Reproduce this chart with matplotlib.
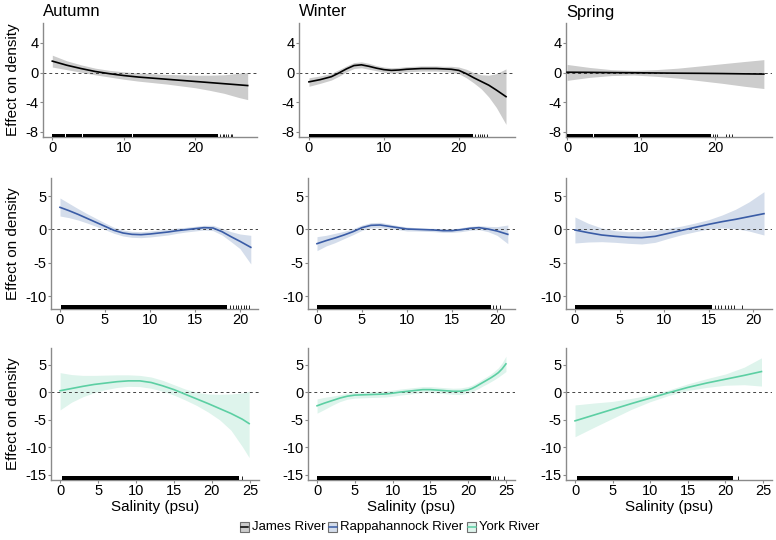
import matplotlib
matplotlib.use("Agg")
import matplotlib.pyplot as plt
from matplotlib.patches import Rectangle
from matplotlib.lines import Line2D

plt.rcParams['font.family'] = ['Liberation Sans', 'DejaVu Sans']

# Cores e rótulos
seasons = ["Autumn", "Winter", "Spring"]
rivers = ["James River", "Rappahannock River", "York River"]
line_colors = ["#000000", "#3a5ca6", "#5ccfa3"]
band_colors = ["#cccccc", "#d4ddeb", "#def4ec"]

# ---------------- James River (linha de cima) ----------------
james_autumn_x = [0, 2, 4, 6, 8, 10, 12, 14, 16, 18, 20, 22, 24, 26, 27.3]
james_autumn_fit = [1.55, 1.0, 0.55, 0.15, -0.15, -0.4, -0.6, -0.75, -0.9, -1.05, -1.2, -1.35, -1.5, -1.65, -1.75]
james_autumn_up = [2.35, 1.6, 1.05, 0.6, 0.3, 0.1, -0.05, -0.15, -0.25, -0.3, -0.35, -0.35, -0.3, -0.1, 0.0]
james_autumn_low = [0.75, 0.4, 0.05, -0.3, -0.6, -0.9, -1.15, -1.35, -1.55, -1.8, -2.05, -2.4, -2.8, -3.35, -3.65]

james_winter_x = [0, 1.5, 3, 4, 5, 6, 7, 8, 9, 10, 11, 12, 13, 14, 15, 16, 17, 18, 19, 20, 21, 22, 23, 24, 25, 26.3]
james_winter_fit = [-1.25, -0.95, -0.55, -0.05, 0.5, 0.95, 1.05, 0.85, 0.6, 0.4, 0.3, 0.35, 0.45, 0.5, 0.55, 0.55, 0.55, 0.5, 0.45, 0.3, -0.15, -0.7, -1.2, -1.7, -2.35, -3.25]
james_winter_up = [-0.7, -0.45, -0.1, 0.4, 0.9, 1.35, 1.45, 1.25, 0.95, 0.75, 0.65, 0.7, 0.8, 0.85, 0.9, 0.9, 0.9, 0.85, 0.85, 0.75, 0.45, 0.0, -0.3, -0.35, -0.15, 0.5]
james_winter_low = [-1.85, -1.45, -1.0, -0.5, 0.1, 0.55, 0.65, 0.45, 0.25, 0.05, -0.05, 0.0, 0.1, 0.15, 0.2, 0.2, 0.2, 0.15, 0.05, -0.15, -0.7, -1.4, -2.2, -3.3, -4.7, -7.0]

james_spring_x = [0, 3, 6, 9, 12, 15, 18, 21, 24, 26.6]
james_spring_fit = [0.05, 0.03, 0.0, -0.02, -0.05, -0.08, -0.1, -0.13, -0.17, -0.2]
james_spring_up = [1.1, 0.7, 0.4, 0.3, 0.4, 0.6, 0.9, 1.2, 1.5, 1.75]
james_spring_low = [-1.05, -0.65, -0.4, -0.33, -0.5, -0.75, -1.1, -1.45, -1.85, -2.15]

# ---------------- Rappahannock River (linha do meio) ----------------
rapp_autumn_x = [0, 1, 2, 3, 4, 5, 6, 7, 8, 9, 10, 11, 12, 13, 14, 15, 16, 17, 18, 19, 20, 21.2]
rapp_autumn_fit = [3.3, 2.8, 2.25, 1.65, 1.05, 0.45, -0.15, -0.55, -0.75, -0.8, -0.7, -0.55, -0.4, -0.2, -0.05, 0.1, 0.25, 0.2, -0.35, -1.1, -1.8, -2.7]
rapp_autumn_up = [4.7, 3.9, 3.1, 2.35, 1.65, 0.95, 0.3, -0.1, -0.3, -0.35, -0.25, -0.1, 0.05, 0.2, 0.3, 0.45, 0.6, 0.6, 0.15, -0.35, -0.7, -0.9]
rapp_autumn_low = [2.0, 1.75, 1.4, 0.95, 0.45, -0.05, -0.6, -1.0, -1.2, -1.25, -1.15, -1.0, -0.85, -0.6, -0.4, -0.25, -0.1, -0.2, -0.85, -1.85, -2.9, -5.2]

rapp_winter_x = [0, 1, 2, 3, 4, 5, 6, 7, 8, 9, 10, 11, 12, 13, 14, 15, 16, 17, 18, 19, 20, 21.2]
rapp_winter_fit = [-2.15, -1.7, -1.3, -0.85, -0.35, 0.25, 0.6, 0.65, 0.45, 0.25, 0.05, 0.0, -0.05, -0.1, -0.2, -0.2, -0.05, 0.15, 0.25, 0.05, -0.25, -0.75]
rapp_winter_up = [-1.1, -0.9, -0.6, -0.3, 0.1, 0.65, 1.0, 1.05, 0.8, 0.55, 0.35, 0.25, 0.2, 0.15, 0.05, 0.05, 0.25, 0.45, 0.55, 0.45, 0.4, 0.65]
rapp_winter_low = [-3.2, -2.5, -2.0, -1.4, -0.8, -0.15, 0.2, 0.25, 0.1, -0.05, -0.25, -0.25, -0.3, -0.35, -0.45, -0.45, -0.35, -0.15, -0.05, -0.35, -0.9, -2.15]

rapp_spring_x = [0, 1.5, 3, 4.5, 6, 7.5, 9, 10.5, 12, 13.5, 15, 16.5, 18, 19.5, 21.2]
rapp_spring_fit = [-0.1, -0.5, -0.85, -1.05, -1.2, -1.25, -1.05, -0.6, -0.15, 0.3, 0.75, 1.15, 1.5, 1.9, 2.35]
rapp_spring_up = [1.85, 0.9, 0.2, -0.2, -0.35, -0.3, -0.15, 0.15, 0.5, 0.95, 1.45, 2.15, 3.0, 4.1, 5.65]
rapp_spring_low = [-2.05, -1.9, -1.85, -1.95, -2.1, -2.2, -1.95, -1.35, -0.8, -0.35, 0.05, 0.2, 0.1, -0.25, -0.85]

# ---------------- York River (linha de baixo) ----------------
york_autumn_x = [0, 1.5, 3, 4.5, 6, 7.5, 9, 10.5, 12, 13.5, 15, 16.5, 18, 19.5, 21, 22.5, 24, 24.9]
york_autumn_fit = [0.3, 0.7, 1.1, 1.45, 1.7, 1.95, 2.1, 2.1, 1.8, 1.2, 0.5, -0.35, -1.2, -2.05, -2.95, -3.85, -4.9, -5.7]
york_autumn_up = [3.6, 3.25, 3.1, 3.1, 3.15, 3.2, 3.2, 3.1, 2.8, 2.2, 1.4, 0.6, 0.0, -0.3, -0.35, -0.3, -0.1, 0.2]
york_autumn_low = [-3.2, -1.8, -0.8, -0.05, 0.5, 0.9, 1.1, 1.05, 0.75, 0.2, -0.5, -1.4, -2.4, -3.6, -5.0, -6.9, -9.9, -11.9]

york_winter_x = [0, 1, 2, 3, 4, 5, 6, 7, 8, 9, 10, 11, 12, 13, 14, 15, 16, 17, 18, 19, 20, 20.5, 21, 21.5, 22, 22.5, 23, 23.5, 24, 24.5, 25]
york_winter_fit = [-2.45, -1.95, -1.5, -1.05, -0.7, -0.5, -0.45, -0.4, -0.35, -0.3, -0.15, 0.05, 0.2, 0.35, 0.5, 0.5, 0.4, 0.3, 0.2, 0.2, 0.45, 0.7, 1.05, 1.45, 1.85, 2.25, 2.65, 3.1, 3.6, 4.3, 5.2]
york_winter_up = [-1.2, -0.9, -0.7, -0.45, -0.15, 0.05, 0.1, 0.15, 0.2, 0.25, 0.4, 0.6, 0.75, 0.9, 1.05, 1.05, 0.95, 0.85, 0.75, 0.8, 1.05, 1.3, 1.65, 2.05, 2.5, 2.9, 3.35, 3.9, 4.5, 5.4, 6.6]
york_winter_low = [-3.8, -3.1, -2.35, -1.7, -1.25, -1.05, -1.0, -0.95, -0.9, -0.85, -0.7, -0.5, -0.35, -0.2, -0.05, -0.05, -0.15, -0.25, -0.35, -0.4, -0.15, 0.1, 0.45, 0.8, 1.2, 1.55, 1.95, 2.35, 2.8, 3.3, 3.8]

york_spring_x = [0, 2.5, 5, 7.5, 10, 12.5, 15, 17.5, 20, 22.5, 24.8]
york_spring_fit = [-5.2, -4.15, -3.1, -2.05, -1.05, -0.05, 0.9, 1.7, 2.4, 3.1, 3.8]
york_spring_up = [-2.3, -1.95, -1.65, -1.1, -0.45, 0.45, 1.55, 2.5, 3.35, 4.6, 6.3]
york_spring_low = [-8.1, -6.4, -4.75, -3.1, -1.7, -0.55, 0.35, 0.9, 1.3, 1.4, 1.15]

# Rug das observações de salinidade: trechos densos e marcas isoladas
rug_spans = [
    [[(0, 1.8), (1.9, 4.2), (4.3, 11.2), (11.3, 23.2)], [(0, 21.9)], [(0, 3.5), (3.7, 9.6), (9.8, 19.4)]],
    [[(0.1, 18.6)], [(0, 19.3)], [(0, 15.4)]],
    [[(0.3, 23.6)], [(0, 23.0)], [(0.2, 21.0)]],
]
rug_ticks = [
    [[23.5, 23.8, 24.0, 24.3, 24.6, 24.9, 25.1], [22.2, 22.5, 22.8, 23.1, 23.4, 23.7], [19.7, 20.0, 20.3, 21.5, 21.9, 22.3]],
    [[18.9, 19.2, 19.5, 19.8, 20.1, 20.4, 20.7, 21.0], [19.6, 19.9, 20.3], [15.7, 16.0, 16.4, 16.8, 17.2, 17.5, 17.8, 18.7]],
    [[23.9], [23.3, 23.6, 24.0, 24.8], [21.7]],
]

curves = [
    [(james_autumn_x, james_autumn_fit, james_autumn_low, james_autumn_up),
     (james_winter_x, james_winter_fit, james_winter_low, james_winter_up),
     (james_spring_x, james_spring_fit, james_spring_low, james_spring_up)],
    [(rapp_autumn_x, rapp_autumn_fit, rapp_autumn_low, rapp_autumn_up),
     (rapp_winter_x, rapp_winter_fit, rapp_winter_low, rapp_winter_up),
     (rapp_spring_x, rapp_spring_fit, rapp_spring_low, rapp_spring_up)],
    [(york_autumn_x, york_autumn_fit, york_autumn_low, york_autumn_up),
     (york_winter_x, york_winter_fit, york_winter_low, york_winter_up),
     (york_spring_x, york_spring_fit, york_spring_low, york_spring_up)],
]

# Geometria dos painéis em pixels (esq, topo, dir, base)
W, H = 776, 540
boxes = [
    [(43, 23, 257, 137), (299, 23, 515, 137), (566, 23, 772, 137)],
    [(51, 178, 258, 309), (308, 178, 515, 309), (566, 178, 772, 309)],
    [(51, 348, 259, 480), (308, 348, 515, 480), (566, 348, 772, 480)],
]
xlims = [
    [(-1.3, 28.6), (-1.33, 27.5), (-0.15, 27.7)],
    [(-1.0, 22.0), (-1.0, 22.0), (-1.0, 22.1)],
    [(-1.2, 26.2), (-1.2, 26.2), (-1.2, 26.2)],
]
ylims = [(-8.7, 6.7), (-11.95, 7.7), (-16.0, 8.1)]
yticks = [[4, 0, -4, -8], [5, 0, -5, -10], [5, 0, -5, -10, -15]]
xticks = [[0, 10, 20], [0, 5, 10, 15, 20], [0, 5, 10, 15, 20, 25]]

font_title = {"fontsize": 12}
font_label = {"fontsize": 11}
spine_color = "#8a8a8a"

fig = plt.figure(figsize=(W / 100, H / 100), dpi=100)

for r in range(3):
    for c in range(3):
        l, t, rr, b = boxes[r][c]
        ax = fig.add_axes([l / W, 1 - b / H, (rr - l) / W, (b - t) / H])
        x, fit, low, up = curves[r][c]
        ax.fill_between(x, low, up, color=band_colors[r], lw=0, zorder=1)
        ax.plot(x, fit, color=line_colors[r], lw=1.2, zorder=3)
        ax.axhline(0, color="#444444", lw=0.7, ls=(0, (3, 3)), zorder=2)
        for a, e in rug_spans[r][c]:
            ax.axvspan(a, e, ymin=0, ymax=0.03, color="black", lw=0, zorder=4)
        ax.vlines(rug_ticks[r][c], 0, 0.03, transform=ax.get_xaxis_transform(),
                  color="black", lw=0.6, zorder=4)
        ax.set_xlim(xlims[r][c])
        ax.set_ylim(ylims[r])
        ax.set_xticks(xticks[r])
        ax.set_yticks(yticks[r])
        ax.set_yticklabels([str(v) for v in yticks[r]])
        for s in ["top", "right"]:
            ax.spines[s].set_visible(False)
        for s in ["left", "bottom"]:
            ax.spines[s].set_color(spine_color)
            ax.spines[s].set_linewidth(1.0)
        ax.tick_params(axis="both", colors=spine_color, labelcolor="black",
                       labelsize=10.5, length=2, width=0.8, pad=1)
        if r == 0:
            fig.text(l / W, 1 - 12 / H, seasons[c], ha="left", va="center", **font_title)
        if c == 0:
            fig.text(13 / W, 1 - (t + b) / 2 / H, "Effect on density", rotation=90,
                     ha="center", va="center", **font_label)
        if r == 2:
            fig.text((l + rr) / 2 / W, 1 - 507 / H, "Salinity (psu)", ha="center",
                     va="center", **font_label)

# Legenda feita à mão: quadrado com a cor da banda e a linha no meio
legend_x = [240, 328, 467]
legend_y = 527
for i in range(3):
    kx = legend_x[i]
    fig.add_artist(Rectangle((kx / W, 1 - (legend_y + 5) / H), 9 / W, 10 / H,
                             transform=fig.transFigure, facecolor=band_colors[i],
                             edgecolor="#6f6f6f", lw=0.8))
    fig.add_artist(Line2D([(kx + 0.5) / W, (kx + 8.5) / W], [1 - legend_y / H] * 2,
                          transform=fig.transFigure, color=line_colors[i], lw=1.1))
    fig.text((kx + 12) / W, 1 - legend_y / H, rivers[i], ha="left", va="center",
             fontsize=9.5)

plt.savefig("out.png", dpi=100)
plt.close()
